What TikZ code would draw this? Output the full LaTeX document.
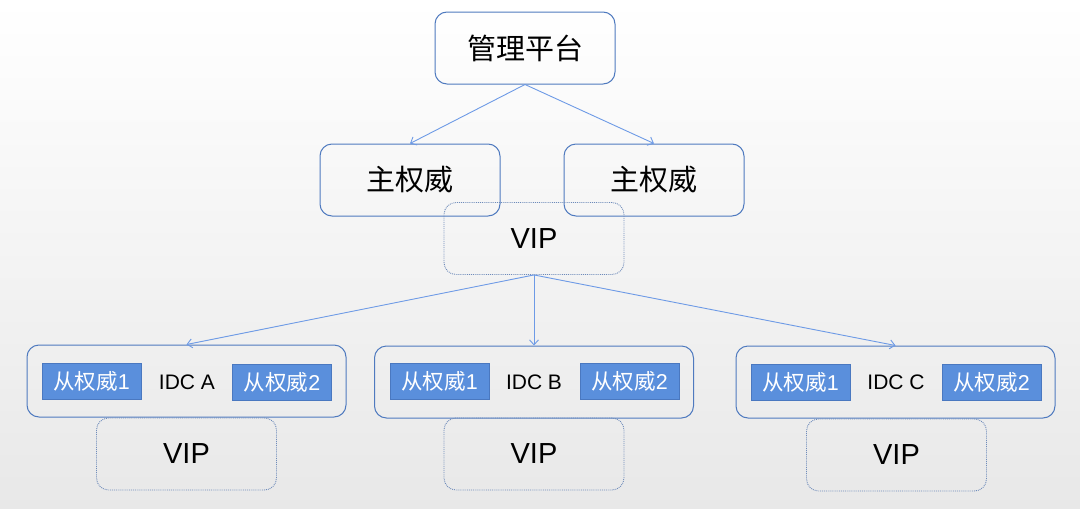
\documentclass[tikz,border=0pt]{standalone}
\usepackage{fontspec}
\setmainfont{Liberation Sans}
\newfontfamily\cjk{Noto Sans CJK SC}
\usetikzlibrary{arrows.meta}
\definecolor{boxborder}{HTML}{4F7ABF}
\definecolor{linkblue}{HTML}{6D9AE6}
\definecolor{slavefill}{HTML}{5A8FDC}
\definecolor{slaveborder}{HTML}{4A78C0}
\definecolor{dotborder}{HTML}{6E8BBA}
\tikzset{
  mainbox/.style={draw=boxborder, line width=1pt, rounded corners=12pt, inner sep=0pt, font=\cjk\fontsize{29}{31}\selectfont},
  idcbox/.style={draw=boxborder, line width=1pt, rounded corners=12pt, inner sep=0pt, minimum width=319pt, minimum height=72pt},
  vipbox/.style={draw=dotborder, line width=0.9pt, densely dotted, rounded corners=12pt, inner sep=0pt, minimum width=180pt, minimum height=72pt, font=\fontsize{29}{31}\selectfont},
  slavebox/.style={draw=slaveborder, line width=0.6pt, fill=slavefill, text=white, inner sep=0pt, minimum width=99pt, minimum height=36pt, font=\fontsize{21.5}{23}\selectfont},
  idclabel/.style={inner sep=0pt, font=\fontsize{21}{23}\selectfont},
  link/.style={draw=linkblue, line width=0.9pt, -{Straight Barb[length=5pt,width=9pt]}}
}
\begin{document}
\begin{tikzpicture}[x=1pt,y=-1pt]
\useasboundingbox (0,0) rectangle (1080,509);
\shade[top color=white, bottom color=black!9] (0,0) rectangle (1080,509);

\node[mainbox, minimum width=180pt, minimum height=72pt] (mgmt) at (525,48) {管理平台};
\node[mainbox, minimum width=180pt, minimum height=72pt] (mA) at (410,180) {主权威};
\node[mainbox, minimum width=180pt, minimum height=72pt] (mB) at (654,180) {主权威};
\node[vipbox] (vip) at (534,238.5) {VIP};

\node[idcbox] (idcA) at (186.5,381) {};
\node[idcbox] (idcB) at (534,382) {};
\node[idcbox] (idcC) at (895.5,382) {};

\node[slavebox] (a1) at (91.5,381.5) {{\cjk 从权威}1};
\node[idclabel] (al) at (187,382) {IDC A};
\node[slavebox] (a2) at (282,382) {{\cjk 从权威}2};

\node[slavebox] (b1) at (439.5,381) {{\cjk 从权威}1};
\node[idclabel] (bl) at (534,382) {IDC B};
\node[slavebox] (b2) at (629.5,381) {{\cjk 从权威}2};

\node[slavebox] (c1) at (800.5,382) {{\cjk 从权威}1};
\node[idclabel] (cl) at (896,382) {IDC C};
\node[slavebox] (c2) at (991.5,382) {{\cjk 从权威}2};

\node[vipbox] (vA) at (186.5,454) {VIP};
\node[vipbox] (vB) at (534,454) {VIP};
\node[vipbox] (vC) at (896.5,455) {VIP};

\draw[link] (mgmt.south) -- (mA.north);
\draw[link] (mgmt.south) -- (mB.north);
\draw[link] (vip.south) -- (idcA.north);
\draw[link] (vip.south) -- (idcB.north);
\draw[link] (vip.south) -- (idcC.north);
\end{tikzpicture}
\end{document}
